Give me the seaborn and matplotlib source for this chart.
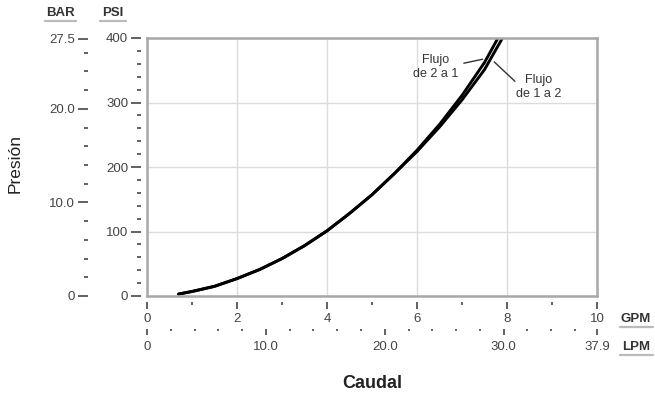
import numpy as np
import pandas as pd
import seaborn as sns
import matplotlib
matplotlib.use("Agg")
import matplotlib.pyplot as plt
from matplotlib.ticker import MultipleLocator, FixedLocator
from matplotlib.lines import Line2D

# ---- data ----
flow_2a1_gpm = [0.7, 1.0, 1.5, 2.0, 2.5, 3.0, 3.5, 4.0, 4.5, 5.0, 5.5, 6.0, 6.5, 7.0, 7.5, 7.8]
pres_2a1_psi = [3, 7, 15, 27, 41, 58, 78, 101, 128, 157, 190, 226, 266, 311, 362, 400]
flow_1a2_gpm = [0.7, 1.0, 1.5, 2.0, 2.5, 3.0, 3.5, 4.0, 4.5, 5.0, 5.5, 6.0, 6.5, 7.0, 7.5, 7.9]
pres_1a2_psi = [3, 7, 15, 27, 41, 58, 78, 101, 128, 157, 190, 224, 262, 304, 351, 400]

psi_ticks = [0, 100, 200, 300, 400]
bar_ticks = [0, 10, 20, 27.5]
bar_labels = ["0", "10.0", "20.0", "27.5"]
gpm_ticks = [0, 2, 4, 6, 8, 10]
lpm_ticks = [0, 10, 20, 30, 37.85]
lpm_labels = ["0", "10.0", "20.0", "30.0", "37.9"]

sns.set_theme(style="white")
plt.rcParams['font.family'] = ['Liberation Sans', 'DejaVu Sans']

W, H = 655, 398
PT = 0.72  # points per pixel at 100 dpi
fig = plt.figure(figsize=(W / 100, H / 100), dpi=100)
ax = fig.add_axes([147 / W, 1 - 296 / H, 450 / W, 258 / H])

df = pd.concat([
    pd.DataFrame({"gpm": flow_2a1_gpm, "psi": pres_2a1_psi, "serie": "2a1"}),
    pd.DataFrame({"gpm": flow_1a2_gpm, "psi": pres_1a2_psi, "serie": "1a2"}),
])
for name, sub in df.groupby("serie"):
    sns.lineplot(data=sub, x="gpm", y="psi", color="black", lw=2.1,
                 sort=False, estimator=None, ax=ax)

ax.set_xlim(0, 10)
ax.set_ylim(0, 400)
ax.set_xticks(gpm_ticks)
ax.set_yticks(psi_ticks)
ax.grid(True, color="#dcdcdc", lw=1)
ax.tick_params(length=0, labelleft=False, labelbottom=False)
ax.set_xlabel("")
ax.set_ylabel("")
for s in ax.spines.values():
    s.set_color("#a8a8a8")
    s.set_linewidth(1.8)

tick_col = "#555555"
lab_col = "#444444"
fs = 9.5

# PSI axis
psi = ax.twinx()
psi.set_ylim(0, 400)
psi.yaxis.tick_left()
for k, s in psi.spines.items():
    s.set_visible(False)
psi.spines['left'].set_position(('outward', 6 * PT))
psi.yaxis.set_major_locator(FixedLocator(psi_ticks))
psi.yaxis.set_minor_locator(MultipleLocator(20))
psi.tick_params(which='major', length=10 * PT, width=1.3, color=tick_col, direction='out',
                pad=2, labelsize=fs, labelcolor=lab_col)
psi.tick_params(which='minor', length=4.5 * PT, width=1.3, color=tick_col, direction='out')

# BAR axis
bar = ax.twinx()
bar.set_ylim(0, 400 / 14.5038)
bar.yaxis.tick_left()
for k, s in bar.spines.items():
    s.set_visible(False)
bar.spines['left'].set_position(('outward', 59 * PT))
bar.yaxis.set_major_locator(FixedLocator(bar_ticks))
bar.set_yticklabels(bar_labels)
bar.yaxis.set_minor_locator(MultipleLocator(2))
bar.tick_params(which='major', length=10 * PT, width=1.3, color=tick_col, direction='out',
                pad=2, labelsize=fs, labelcolor=lab_col)
bar.tick_params(which='minor', length=4.5 * PT, width=1.3, color=tick_col, direction='out')

# GPM axis
gx = ax.twiny()
gx.set_xlim(0, 10)
gx.xaxis.tick_bottom()
for k, s in gx.spines.items():
    s.set_visible(False)
gx.spines['bottom'].set_position(('outward', 6 * PT))
gx.xaxis.set_major_locator(FixedLocator(gpm_ticks))
gx.xaxis.set_minor_locator(MultipleLocator(1))
gx.tick_params(which='major', length=6.5 * PT, width=1.3, color=tick_col, direction='out',
               pad=3, labelsize=fs, labelcolor=lab_col)
gx.tick_params(which='minor', length=3 * PT, width=1.3, color=tick_col, direction='out')

# LPM axis
lx = ax.twiny()
lx.set_xlim(0, 37.854)
lx.xaxis.tick_bottom()
for k, s in lx.spines.items():
    s.set_visible(False)
lx.spines['bottom'].set_position(('outward', 33 * PT))
lx.xaxis.set_major_locator(FixedLocator(lpm_ticks))
lx.set_xticklabels(lpm_labels)
lx.xaxis.set_minor_locator(MultipleLocator(2))
lx.tick_params(which='major', length=6 * PT, width=1.3, color=tick_col, direction='out',
               pad=4.5, labelsize=fs, labelcolor=lab_col)
lx.tick_params(which='minor', length=2.5 * PT, width=1.3, color=tick_col, direction='out')

# unit labels with underline
def unit_label(x, y, txt, uy, x0, x1):
    fig.text(x / W, 1 - y / H, txt, ha='center', va='center', fontsize=9.5,
             color="#333333", fontweight='bold')
    fig.add_artist(Line2D([x0 / W, x1 / W], [1 - uy / H, 1 - uy / H],
                          color="#bbbbbb", lw=1.6))

unit_label(60, 13, "BAR", 21, 45, 76)
unit_label(113, 13, "PSI", 21, 100, 126)
unit_label(636, 319, "GPM", 327, 620, 653)
unit_label(636, 347, "LPM", 355, 620, 653)

fig.text(15 / W, 1 - 163 / H, "Presión", rotation=90, ha='center', va='center',
         fontsize=12.5, color="#222222")
fig.text(372 / W, 1 - 384 / H, "Caudal", ha='center', va='center',
         fontsize=13, fontweight='bold', color="#222222")

# annotations
ax.text(6.42, 355, "Flujo\nde 2 a 1", ha='center', va='center', fontsize=9,
        color="#333333", linespacing=1.15)
ax.annotate("", xy=(7.52, 368), xytext=(6.98, 360),
            arrowprops=dict(arrowstyle='-', color="#333333", lw=1))
ax.text(8.71, 324, "Flujo\nde 1 a 2", ha='center', va='center', fontsize=9,
        color="#333333", linespacing=1.15)
ax.annotate("", xy=(7.67, 366), xytext=(8.22, 330),
            arrowprops=dict(arrowstyle='-', color="#333333", lw=1))

fig.savefig("out.png", dpi=100)
